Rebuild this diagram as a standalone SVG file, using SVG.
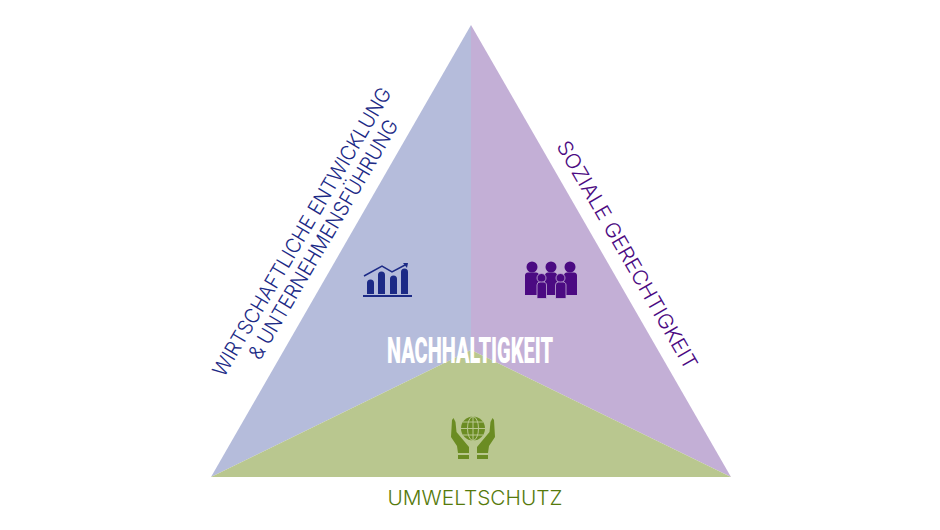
<svg xmlns="http://www.w3.org/2000/svg" width="940" height="530" viewBox="0 0 940 530">
<style>
.lbl{font-family:Inter,"Liberation Sans",sans-serif;font-weight:300;font-size:20.500px}
.b{fill:#1c2a86}.p{fill:#4b0a82}.g{fill:#6b8c23}
</style>
<rect width="940" height="530" fill="#fff"/>
<g id="triangle">
<polygon id="blue" points="471,25 471,350 211,477" fill="#b5bcdb"/>
<polygon id="purple" points="471,25 731,477 471,350" fill="#c3afd6"/>
<polygon id="green" points="211,477 471,350 731,477" fill="#b9c78f"/>
</g>
<g id="node-wirtschaft">
<text class="lbl" transform="translate(224,378) rotate(-59.500)" fill="#1c2a86" textLength="331" lengthAdjust="spacingAndGlyphs">WIRTSCHAFTLICHE ENTWICKLUNG</text>
<text class="lbl" transform="translate(260,361) rotate(-59.500)" fill="#1c2a86" textLength="274" lengthAdjust="spacingAndGlyphs">&amp; UNTERNEHMENSFÜHRUNG</text>
<g id="icon-chart">
<rect x="363" y="295" width="49" height="2" class="b"/>
<path class="b" d="M367 294V283a3.500 3.500 0 0 1 7 0V294ZM378 294V275a3.500 3.500 0 0 1 7 0V294ZM390 294V279a3.500 3.500 0 0 1 7 0V294ZM401 294V272a3.500 3.500 0 0 1 7 0V294Z"/>
<path d="M364 276L382 266L392 272L406 264.500" fill="none" stroke="#1c2a86" stroke-width="1.500"/>
<path class="b" d="M403 263L408 263L407 268Z"/>
</g>
</g>
<g id="node-sozial">
<text class="lbl" transform="translate(556,146) rotate(60)" fill="#4b0a82" textLength="260" lengthAdjust="spacingAndGlyphs">SOZIALE GERECHTIGKEIT</text>
<g id="icon-people" class="p">
<circle cx="532" cy="267" r="5.500"/><circle cx="551" cy="267" r="5.500"/><circle cx="570" cy="267" r="5.500"/>
<path d="M525 276a3 3 0 0 1 3-3.500h8a3 3 0 0 1 3 3.500V295H525ZM545 276a3 3 0 0 1 3-3.500h6a3 3 0 0 1 3 3.500V295H545ZM564 276a3 3 0 0 1 3-3.500h7a3 3 0 0 1 3 3.500V295H564Z"/>
<g stroke="#c3afd6" stroke-width="0.800">
<circle cx="541.500" cy="278" r="4.500"/><circle cx="560.500" cy="278" r="4.500"/>
<path d="M537 285a3 3 0 0 1 3-3h3a3 3 0 0 1 3.500 3V298.500H537ZM555.500 285a3 3 0 0 1 3-3h4a3 3 0 0 1 3.500 3V298.500H555.500Z"/>
</g>
</g>
</g>
<g id="node-umwelt">
<text class="lbl" x="475" y="505" text-anchor="middle" fill="#567a0c" textLength="175" lengthAdjust="spacingAndGlyphs">UMWELTSCHUTZ</text>
<g id="icon-globe">
<circle class="g" cx="473" cy="428.500" r="12"/>
<g fill="none" stroke="#b9c78f" stroke-width="1">
<ellipse cx="473" cy="428.500" rx="5.500" ry="12"/>
<path d="M473 416.500V440.500M461 428.500H485M463 422H483M463 435H483"/>
</g>
<path class="g" d="M451 437L452 420L453.500 418L455.500 422L456.500 432L464 441L469 447V453H458L457 446Z"/>
<path class="g" d="M495 437L494 420L492.500 418L490.500 422L489.500 432L482 441L477 447V453H488L489 446Z"/>
<rect class="g" x="458" y="455" width="11" height="4"/>
<rect class="g" x="477" y="455" width="11" height="4"/>
</g>
</g>
<g id="node-center">
<text x="470" y="363" text-anchor="middle" fill="#fff" font-family="Roboto,'Liberation Sans',sans-serif" font-weight="900" font-size="36" textLength="166" lengthAdjust="spacingAndGlyphs">NACHHALTIGKEIT</text>
</g>
</svg>
